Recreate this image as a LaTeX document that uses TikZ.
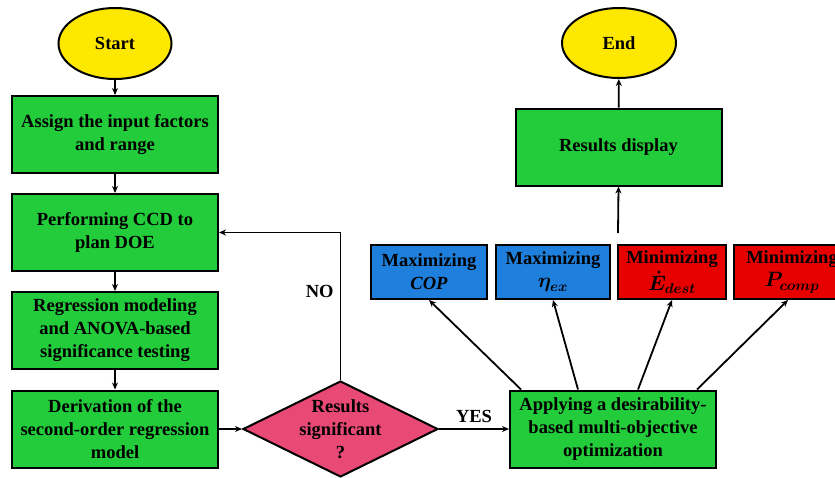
\documentclass[tikz,border=0pt]{standalone}
\usepackage{amsmath,bm}
\usepackage{fontspec}
\setmainfont{Liberation Serif}
\usetikzlibrary{shapes.geometric,arrows.meta,calc}
\definecolor{gbox}{RGB}{34,204,58}
\definecolor{ybox}{RGB}{255,232,0}
\definecolor{bbox}{RGB}{30,128,220}
\definecolor{rbox}{RGB}{230,0,0}
\definecolor{pbox}{RGB}{232,74,117}
\newcommand{\bigmath}[1]{{\fontsize{21}{23}\selectfont\boldmath$#1$}}
\begin{document}
\begin{tikzpicture}[x=1pt,y=-1pt,
  every node/.style={font=\bfseries\fontsize{18.5}{23}\selectfont, align=center, inner sep=0pt},
  gstep/.style={draw=black, line width=2pt, fill=gbox, rectangle, minimum width=206pt, minimum height=77pt},
  term/.style={draw=black, line width=2pt, fill=ybox, ellipse, minimum width=113pt, minimum height=71pt},
  obj/.style={draw=black, line width=2pt, rectangle, minimum width=114pt, minimum height=54pt},
  conn/.style={line width=1.8pt, -{Stealth[length=7pt,width=6pt]}}]
\useasboundingbox (0,0) rectangle (835,477);
\clip (0,0) rectangle (835,477);
\node[term] (start) at (115,43.5) {Start};
\node[gstep] (b1) at (115,134.5) {Assign the input factors\\and range};
\node[gstep] (b2) at (115,232.5) {Performing CCD to\\plan DOE};
\node[gstep] (b3) at (115,330.5) {Regression modeling\\and ANOVA-based\\significance testing};
\node[gstep] (b4) at (115,429) {Derivation of the\\second-order regression\\model};
\node[draw=black, line width=2pt, fill=pbox, diamond, aspect=2, minimum width=195pt, minimum height=96pt] (dec) at (340.5,429) {};
\node (dtext) at (dec.center) {Results\\significant\\?};
\node[gstep] (opt) at (613,429) {Applying a desirability-\\based multi-objective\\optimization};
\node[obj, fill=bbox, minimum width=116pt] (cop) at (429,272) {Maximizing\\\textit{COP}};
\node[obj, fill=bbox] (eta) at (553,272) {Maximizing\\\bigmath{\eta_{ex}}};
\node[obj, fill=rbox, minimum width=108pt] (edest) at (672,272) {Minimizing\\[3pt]\bigmath{\dot{E}_{dest}}};
\node[obj, fill=rbox, minimum width=116pt] (pcomp) at (792,272) {Minimizing\\\bigmath{P_{comp}}};
\node[gstep] (res) at (618.5,147) {Results display};
\node[term, minimum width=114pt, minimum height=70pt] (end) at (619,43) {End};
\coordinate (free) at (618,233);

\draw[conn] (start) -- (b1);
\draw[conn] (b1) -- (b2);
\draw[conn] (b2) -- (b3);
\draw[conn] (b3) -- (b4);
\draw[conn] (b4) -- (dec);
\draw[conn] (dec.north) |- node[pos=0.3, left=6pt] (no) {NO} (b2.east);
\draw[conn] (dec.east) -- node[above=5pt] (yes) {YES} (opt.west);
\draw[conn] ($(opt.north west)+(12,0)$) -- (cop.south);
\draw[conn] ($(opt.north west)+(69,0)$) -- (eta.south);
\draw[conn] ($(opt.north west)+(129,0)$) -- (edest.south);
\draw[conn] ($(opt.north west)+(188,0)$) -- ($(pcomp.south)+(-4,0)$);
\draw[conn] (free) -- (res.south);
\draw[conn] (res) -- (end);
\end{tikzpicture}
\end{document}
